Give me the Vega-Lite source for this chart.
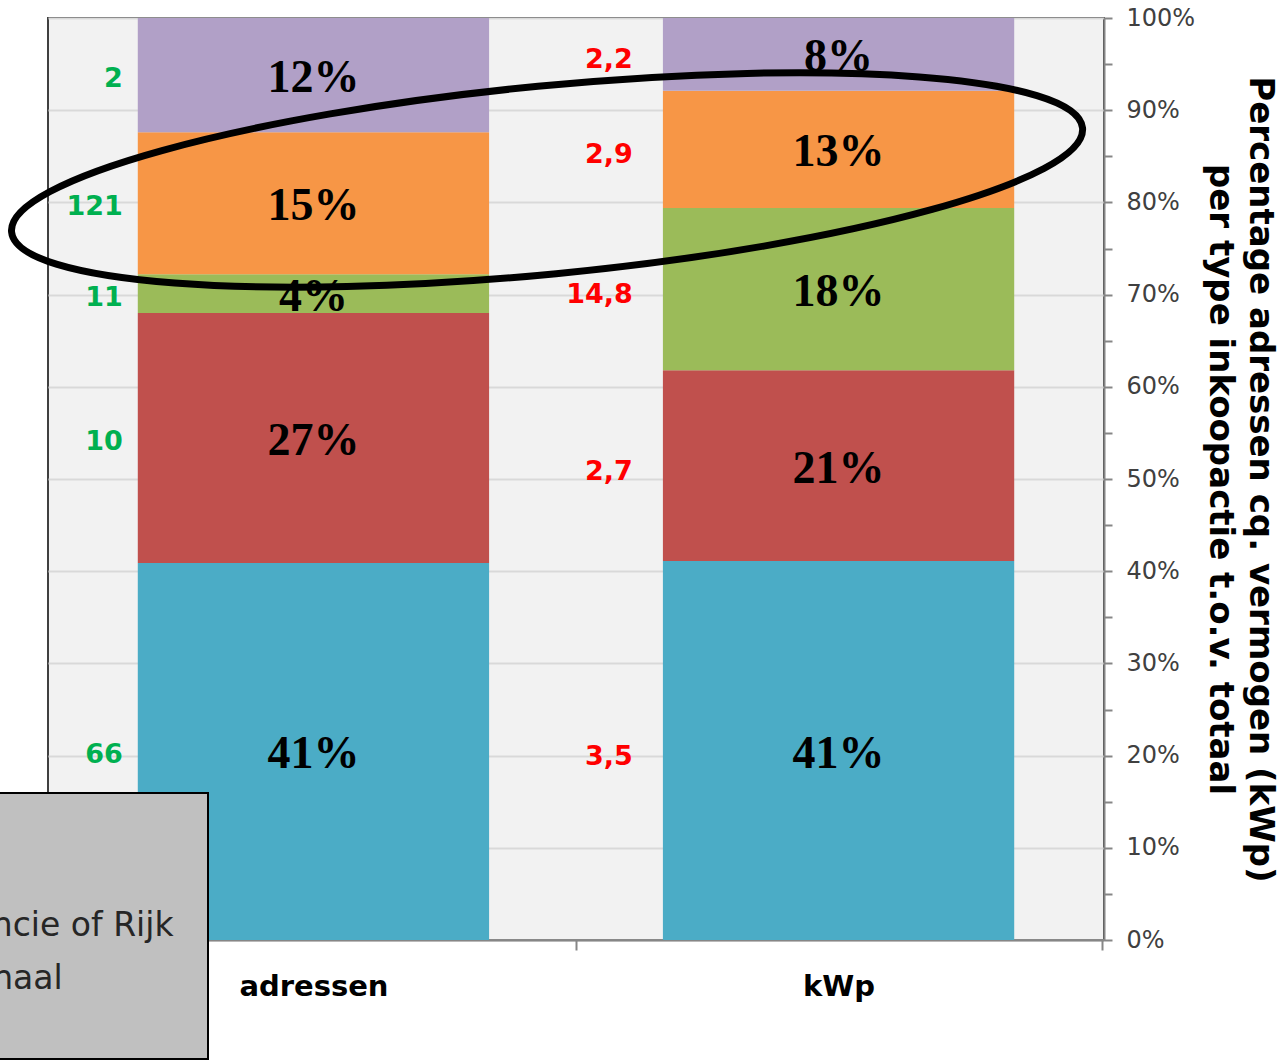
{
  "$schema": "https://vega.github.io/schema/vega-lite/v6.json",
  "width": 1056,
  "height": 922,
  "autosize": {"type": "none"},
  "padding": {"left": 48, "top": 18, "right": 184, "bottom": 120},
  "background": "#ffffff",
  "config": {
    "view": {"fill": "#f2f2f2", "stroke": "#404040", "strokeWidth": 2},
    "legend": {
      "orient": "none",
      "legendX": -378,
      "legendY": 775,
      "fillColor": "#c0c0c0",
      "strokeColor": "#000000",
      "strokeWidth": 2,
      "padding": 10,
      "labelFont": "DejaVu Sans",
      "labelFontSize": 33,
      "labelColor": "#262626",
      "labelLimit": 2000,
      "symbolType": "square",
      "symbolSize": 400,
      "rowPadding": 19,
      "labelOffset": 4
    }
  },
  "datasets": {
    "shares": [
      {"cat": "adressen", "type": "Particulier", "rank": 1, "pct": 0.409, "note": "66"},
      {"cat": "adressen", "type": "Installateur & ophaal", "rank": 2, "pct": 0.271, "note": "10"},
      {"cat": "adressen", "type": "Gemeente, Provincie of Rijk", "rank": 3, "pct": 0.042, "note": "11"},
      {"cat": "adressen", "type": "Buurtactie", "rank": 4, "pct": 0.154, "note": "121"},
      {"cat": "adressen", "type": "Overig", "rank": 5, "pct": 0.124, "note": "2"},
      {"cat": "kWp", "type": "Particulier", "rank": 1, "pct": 0.411, "note": "3,5"},
      {"cat": "kWp", "type": "Installateur & ophaal", "rank": 2, "pct": 0.207, "note": "2,7"},
      {"cat": "kWp", "type": "Gemeente, Provincie of Rijk", "rank": 3, "pct": 0.176, "note": "14,8"},
      {"cat": "kWp", "type": "Buurtactie", "rank": 4, "pct": 0.127, "note": "2,9"},
      {"cat": "kWp", "type": "Overig", "rank": 5, "pct": 0.079, "note": "2,2"}
    ],
    "annotation": [{"cat": "adressen", "level": 0.8243}]
  },
  "layer": [
    {
      "data": {"name": "shares"},
      "transform": [
        {"stack": "pct", "groupby": ["cat"], "sort": [{"field": "rank", "order": "ascending"}], "as": ["y0", "y1"]},
        {"calculate": "(datum.y0 + datum.y1) / 2", "as": "ymid"}
      ],
      "layer": [
        {
          "mark": {"type": "bar"},
          "encoding": {
            "x": {
              "field": "cat", "type": "nominal", "sort": ["adressen", "kWp"],
              "scale": {"paddingInner": 0.331, "paddingOuter": 0.171},
              "axis": {
                "title": null, "labelAngle": 0,
                "labelFont": "DejaVu Sans", "labelFontWeight": "bold", "labelFontSize": 29, "labelColor": "#000000",
                "labelPadding": 22,
                "domainColor": "#868686", "domainWidth": 2,
                "tickColor": "#868686", "tickWidth": 2, "tickSize": 10,
                "tickOffset": 263, "labelOffset": -263,
                "grid": false
              }
            },
            "y": {
              "field": "y0", "type": "quantitative",
              "scale": {"domain": [0, 1], "nice": false},
              "axis": {
                "orient": "right",
                "values": [0, 0.05, 0.1, 0.15, 0.2, 0.25, 0.3, 0.35, 0.4, 0.45, 0.5, 0.55, 0.6, 0.65, 0.7, 0.75, 0.8, 0.85, 0.9, 0.95, 1],
                "format": ".0%",
                "labelExpr": "round(datum.value * 100) % 10 == 0 ? datum.label : ''",
                "labelOverlap": false,
                "labelFont": "DejaVu Sans", "labelFontSize": 24, "labelColor": "#404040", "labelPadding": 14,
                "grid": true, "gridColor": "#d9d9d9", "gridWidth": 2,
                "gridOpacity": {"condition": {"test": "round(datum.value * 100) % 10 != 0", "value": 0}, "value": 1},
                "domainColor": "#868686", "domainWidth": 2,
                "tickColor": "#868686", "tickWidth": 2, "tickSize": 8,
                "title": ["Percentage adressen cq. vermogen (kWp)", "per type inkoopactie t.o.v. totaal"],
                "titleFont": "DejaVu Sans", "titleFontWeight": "bold", "titleFontSize": 34, "titleColor": "#000000",
                "titleLineHeight": 40, "titlePadding": 8
              }
            },
            "y2": {"field": "y1"},
            "color": {
              "field": "type", "type": "nominal",
              "scale": {
                "domain": ["Overig", "Buurtactie", "Gemeente, Provincie of Rijk", "Installateur & ophaal", "Particulier"],
                "range": ["#b1a0c7", "#f79646", "#9bbb59", "#c0504d", "#4bacc6"]
              },
              "legend": {
                "title": null,
                "labelExpr": "indexof(datum.label, 'Rijk') >= 0 ? datum.label + '\u2800' : datum.label"
              }
            }
          }
        },
        {
          "mark": {"type": "text", "font": "Liberation Serif", "fontWeight": "bold", "fontSize": 46, "color": "#000000", "baseline": "middle", "align": "center", "dy": 3},
          "encoding": {
            "x": {"field": "cat", "type": "nominal", "sort": ["adressen", "kWp"]},
            "y": {"field": "ymid", "type": "quantitative"},
            "text": {"field": "pct", "type": "quantitative", "format": ".0%"}
          }
        },
        {
          "transform": [{"filter": "datum.cat == 'adressen'"}],
          "mark": {"type": "text", "font": "DejaVu Sans", "fontWeight": "bold", "fontSize": 27, "color": "#00b050", "baseline": "middle", "align": "right", "dx": -15, "dy": 4},
          "encoding": {
            "x": {"field": "cat", "type": "nominal", "sort": ["adressen", "kWp"], "bandPosition": 0},
            "y": {"field": "ymid", "type": "quantitative"},
            "text": {"field": "note", "type": "nominal"}
          }
        },
        {
          "transform": [{"filter": "datum.cat == 'kWp'"}],
          "mark": {"type": "text", "font": "DejaVu Sans", "fontWeight": "bold", "fontSize": 27, "color": "#ff0000", "baseline": "middle", "align": "right", "dx": -30, "dy": 6},
          "encoding": {
            "x": {"field": "cat", "type": "nominal", "sort": ["adressen", "kWp"], "bandPosition": 0},
            "y": {"field": "ymid", "type": "quantitative"},
            "text": {"field": "note", "type": "nominal"}
          }
        }
      ]
    },
    {
      "data": {"name": "annotation"},
      "mark": {
        "type": "point",
        "shape": "M-1,0 C-1,-0.0966 -0.5523,-0.175 0,-0.175 C0.5523,-0.175 1,-0.0966 1,0 C1,0.0966 0.5523,0.175 0,0.175 C-0.5523,0.175 -1,0.0966 -1,0 Z",
        "size": 1157776,
        "angle": -5.55,
        "filled": false,
        "stroke": "#000000",
        "strokeWidth": 7,
        "opacity": 1
      },
      "encoding": {
        "x": {"field": "cat", "type": "nominal", "sort": ["adressen", "kWp"], "bandPosition": 1.165},
        "y": {"field": "level", "type": "quantitative"}
      }
    }
  ]
}
